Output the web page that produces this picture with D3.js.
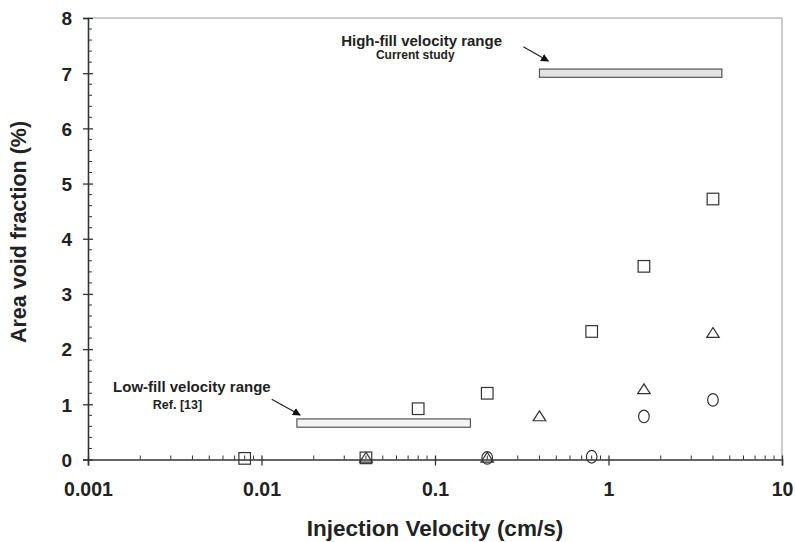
<!DOCTYPE html>
<html>
<head>
<meta charset="utf-8">
<script src="https://cdn.jsdelivr.net/npm/d3@7"></script>
<style>
  body { margin: 0; background: #fff; }
  text { font-family: "Liberation Sans", Arial, sans-serif; font-weight: bold; fill: #222; }
</style>
</head>
<body>
<script>
// data
const squareX = [0.008, 0.04, 0.08, 0.2, 0.8, 1.6, 4]
const squareY = [0.02, 0.03, 0.92, 1.2, 2.32, 3.5, 4.72]
const triangleX = [0.04, 0.2, 0.4, 1.6, 4]
const triangleY = [0.03, 0.03, 0.78, 1.27, 2.29]
const circleX = [0.2, 0.8, 1.6, 4]
const circleY = [0.03, 0.05, 0.78, 1.08]

// velocity ranges: [from, to, level]
const lowFill = [0.016, 0.16, 0.66]
const highFill = [0.4, 4.5, 7.0]

const xTicks = [0.001, 0.01, 0.1, 1, 10]
const yTicks = [0, 1, 2, 3, 4, 5, 6, 7, 8]

const W = 795, H = 542
const m = { top: 18, right: 13, bottom: 82.5, left: 88 }

const svg = d3.select('body').append('svg')
    .attr('width', W)
    .attr('height', H)

const x = d3.scaleLog().domain([0.001, 10]).range([m.left, W - m.right])
const y = d3.scaleLinear().domain([0, 8]).range([H - m.bottom, m.top])

const ink = '#333'

// frame (top/right)
svg.append('path')
    .attr('d', `M${x(0.001)},${y(8)}H${x(10)}V${y(0)}`)
    .attr('fill', 'none')
    .attr('stroke', '#9a9a9a')
    .attr('stroke-width', 1)

// minor ticks
const xMinor = []
for (let d = 0.001; d < 10; d *= 10) {
    for (let k = 2; k <= 9; k++) xMinor.push(d * k)
}
svg.append('g').selectAll('line').data(xMinor).join('line')
    .attr('x1', d => x(d)).attr('x2', d => x(d))
    .attr('y1', y(0)).attr('y2', y(0) - 4)
    .attr('stroke', ink).attr('stroke-width', 1)

const yMinor = d3.range(0, 8.001, 0.2).filter(v => Math.abs(v - Math.round(v)) > 0.01)
svg.append('g').selectAll('line').data(yMinor).join('line')
    .attr('x1', x(0.001)).attr('x2', x(0.001) + 4)
    .attr('y1', d => y(d)).attr('y2', d => y(d))
    .attr('stroke', ink).attr('stroke-width', 1)

// axes
const xAxis = svg.append('g')
    .attr('transform', `translate(0,${y(0)})`)
    .call(d3.axisBottom(x).tickValues(xTicks).tickFormat(d3.format('~g')).tickSize(6).tickPadding(17))
xAxis.select('.domain').attr('stroke', ink).attr('stroke-width', 1.6)
xAxis.selectAll('.tick line').attr('stroke', ink).attr('stroke-width', 1.3).attr('y1', -4)
xAxis.selectAll('.tick text')
    .attr('font-size', 19.5).attr('font-family', null).attr('fill', '#222')

const yAxis = svg.append('g')
    .attr('transform', `translate(${x(0.001)},0)`)
    .call(d3.axisLeft(y).tickValues(yTicks).tickSize(5).tickPadding(11))
yAxis.select('.domain').attr('stroke', ink).attr('stroke-width', 1.6)
yAxis.selectAll('.tick line').attr('stroke', ink).attr('stroke-width', 1.3).attr('x1', 5)
yAxis.selectAll('.tick text')
    .attr('font-size', 19).attr('font-family', null).attr('fill', '#222')
    .attr('dy', '0.36em')

// axis titles
svg.append('text')
    .attr('x', 435)
    .attr('y', 536)
    .attr('text-anchor', 'middle')
    .attr('font-size', 22.5)
    .text('Injection Velocity (cm/s)')

svg.append('text')
    .attr('transform', `translate(26,${232}) rotate(-90)`)
    .attr('text-anchor', 'middle')
    .attr('font-size', 21.5)
    .text('Area void fraction (%)')

// range bars
const bars = [
    { r: lowFill, fill: '#f4f4f4' },
    { r: highFill, fill: '#e2e2e2' },
]
svg.append('g').selectAll('rect').data(bars).join('rect')
    .attr('x', d => x(d.r[0]))
    .attr('width', d => x(d.r[1]) - x(d.r[0]))
    .attr('y', d => y(d.r[2] + 0.075))
    .attr('height', d => y(d.r[2] - 0.075) - y(d.r[2] + 0.075))
    .attr('fill', d => d.fill)
    .attr('stroke', '#555')
    .attr('stroke-width', 1.2)

// annotations
svg.append('defs').append('marker')
    .attr('id', 'head')
    .attr('viewBox', '0 0 10 10')
    .attr('refX', 9).attr('refY', 5)
    .attr('markerWidth', 8).attr('markerHeight', 8)
    .attr('markerUnits', 'userSpaceOnUse')
    .attr('orient', 'auto')
    .append('path').attr('d', 'M0,0L10,5L0,10Z').attr('fill', '#111')

const arrows = [
    { from: [0.01145, 1.09], to: [0.0167, 0.806] },
    { from: [0.323, 7.48], to: [0.45, 7.22] },
]
svg.append('g').selectAll('line').data(arrows).join('line')
    .attr('x1', d => x(d.from[0])).attr('y1', d => y(d.from[1]))
    .attr('x2', d => x(d.to[0])).attr('y2', d => y(d.to[1]))
    .attr('stroke', '#222').attr('stroke-width', 1.2)
    .attr('marker-end', 'url(#head)')

const notes = [
    { t: 'High-fill velocity range', at: [0.0837, 7.5], size: 15 },
    { t: 'Current study', at: [0.077, 7.25], size: 12 },
    { t: 'Low-fill velocity range', at: [0.00397, 1.23], size: 15 },
    { t: 'Ref. [13]', at: [0.00328, 0.91], size: 12.5 },
]
svg.append('g').selectAll('text').data(notes).join('text')
    .attr('x', d => x(d.at[0]))
    .attr('y', d => y(d.at[1]))
    .attr('text-anchor', 'middle')
    .attr('font-size', d => d.size)
    .text(d => d.t)

// markers
const pts = (xs, ys) => xs.map((v, i) => [v, ys[i]])
const mk = svg.append('g')
    .attr('fill', 'none')
    .attr('stroke', ink)
    .attr('stroke-width', 1.2)

mk.selectAll('rect').data(pts(squareX, squareY)).join('rect')
    .attr('x', d => x(d[0]) - 5.8)
    .attr('y', d => y(d[1]) - 5.8)
    .attr('width', 11.6).attr('height', 11.6)

const tri = d3.symbol().type(d3.symbolTriangle).size(62)
mk.selectAll('path').data(pts(triangleX, triangleY)).join('path')
    .attr('d', tri)
    .attr('transform', d => `translate(${x(d[0])},${y(d[1]) + 1}) scale(1.05,0.95)`)

mk.selectAll('ellipse').data(pts(circleX, circleY)).join('ellipse')
    .attr('cx', d => x(d[0]))
    .attr('cy', d => y(d[1]))
    .attr('rx', 5.3).attr('ry', 6.3)
</script>
</body>
</html>
